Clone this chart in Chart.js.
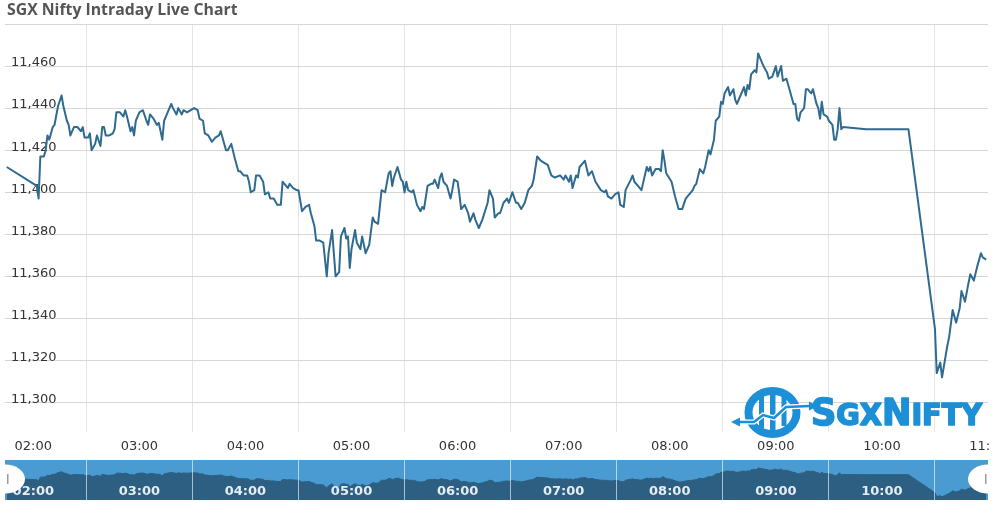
<!DOCTYPE html>
<html>
<head>
<meta charset="utf-8">
<title>SGX Nifty Intraday Live Chart</title>
<script src="https://cdn.jsdelivr.net/npm/chart.js@4.4.1/dist/chart.umd.min.js"></script>
<style>
  html, body { margin:0; padding:0; background:#fff; }
  body { width:1000px; height:513px; position:relative; overflow:hidden; }
  #title { position:absolute; left:7px; top:0px; font-family:"Open Sans","Liberation Sans",sans-serif; font-weight:700; font-size:15.8px; line-height:19px; color:#555; white-space:nowrap; }
  #mainWrap { position:absolute; left:0; top:0; width:990px; height:460px; }
  #navWrap { position:absolute; left:0; top:460px; width:990px; height:40px; }
  #logo { position:absolute; left:730px; top:380px; }
</style>
</head>
<body>
<div id="mainWrap"><canvas id="mainChart" width="990" height="460"></canvas></div>
<div id="navWrap"><canvas id="navChart" width="990" height="40"></canvas></div>
<div id="title">SGX Nifty Intraday Live Chart</div>
<svg id="logo" width="260" height="62" viewBox="0 0 260 62" xmlns="http://www.w3.org/2000/svg">
  <ellipse cx="42.5" cy="32.5" rx="24" ry="21.5" fill="none" stroke="#1d8fd6" stroke-width="8"/>
  <rect x="29" y="15" width="5" height="33" fill="#1d8fd6"/>
  <rect x="40" y="10" width="5.5" height="40" fill="#1d8fd6"/>
  <rect x="51.5" y="16" width="5" height="30" fill="#1d8fd6"/>
  <polyline points="8,42 24,42 33,35 44,38 56,27 80,26" fill="none" stroke="#fff" stroke-width="5"/>
  <polyline points="8,42 24,42 33,35 44,38 56,27 80,26" fill="none" stroke="#1d8fd6" stroke-width="2.5"/>
  <polygon points="1,42 10,37.5 10,46.5" fill="#1d8fd6"/>
  <polygon points="88,26 79,21.5 79,30.5" fill="#1d8fd6"/>
  <text x="81" y="45" font-family="DejaVu Sans Condensed, DejaVu Sans, sans-serif" font-weight="bold" fill="#1d8fd6" stroke="#1d8fd6" stroke-width="1.6" stroke-linejoin="round" textLength="171" lengthAdjust="spacingAndGlyphs"><tspan font-size="38">S</tspan><tspan font-size="31">GX</tspan><tspan font-size="38">N</tspan><tspan font-size="31">IFTY</tspan></text>
</svg>
<script>
// ---- data ----
const times = [
  "01:45","02:02","02:03","02:04","02:06","02:07","02:08","02:09","02:11","02:12",
  "02:14","02:16","02:17","02:19","02:20","02:21","02:23","02:25","02:27","02:28",
  "02:29","02:31","02:32","02:33","02:35","02:36","02:38","02:39","02:40","02:41",
  "02:43","02:45","02:46","02:47","02:49","02:51","02:52","02:53","02:55","02:56",
  "02:57","02:58","03:00","03:02","03:04","03:05","03:06","03:08","03:10","03:11",
  "03:13","03:14","03:16","03:18","03:19","03:21","03:22","03:24","03:25","03:27",
  "03:29","03:31","03:33","03:34","03:36","03:37","03:39","03:41","03:43","03:45",
  "03:46","03:47","03:49","03:50","03:52","03:54","03:56","03:57","03:59","04:01",
  "04:02","04:03","04:05","04:06","04:08","04:10","04:11","04:13","04:14","04:16",
  "04:18","04:20","04:21","04:23","04:24","04:25","04:27","04:29","04:30","04:32",
  "04:34","04:36","04:37","04:39","04:40","04:42","04:44","04:46","04:47","04:49",
  "04:50","04:51","04:53","04:54","04:56","04:57","04:58","04:59","05:00","05:02",
  "05:03","05:05","05:06","05:08","05:10","05:12","05:13","05:15","05:17","05:19",
  "05:21","05:22","05:23","05:24","05:26","05:28","05:29","05:30","05:31","05:32",
  "05:34","05:35","05:37","05:39","05:40","05:41","05:43","05:45","05:46","05:47",
  "05:49","05:50","05:51","05:52","05:54","05:56","05:57","05:58","06:00","06:01",
  "06:02","06:04","06:06","06:07","06:09","06:10","06:12","06:14","06:17","06:18",
  "06:20","06:21","06:23","06:24","06:26","06:28","06:29","06:31","06:33","06:34",
  "06:36","06:38","06:40","06:42","06:43","06:45","06:47","06:49","06:51","06:53",
  "06:55","06:58","07:00","07:01","07:03","07:04","07:05","07:07","07:08","07:09",
  "07:11","07:12","07:14","07:16","07:18","07:21","07:23","07:24","07:25","07:27",
  "07:29","07:31","07:32","07:34","07:35","07:38","07:39","07:40","07:42","07:44",
  "07:47","07:48","07:49","07:50","07:52","07:54","07:55","07:56","07:57","07:58",
  "08:01","08:03","08:05","08:07","08:09","08:11","08:13","08:14","08:15","08:17",
  "08:19","08:20","08:21","08:22","08:23","08:25","08:26","08:28","08:29","08:30",
  "08:31","08:33","08:34","08:36","08:37","08:38","08:40","08:42","08:43","08:44",
  "08:45","08:46","08:48","08:49","08:50","08:51","08:53","08:55","08:56","08:58",
  "09:00","09:01","09:03","09:04","09:06","09:08","09:10","09:11","09:12","09:13",
  "09:14","09:16","09:17","09:18","09:20","09:21","09:23","09:24","09:25","09:26",
  "09:27","09:29","09:30","09:32","09:33","09:34","09:35","09:36","09:37","09:38",
  "09:51","10:15","10:30","10:31","10:33","10:34","10:37","10:38","10:40","10:42",
  "10:44","10:45","10:47","10:49","10:50","10:52","10:54","10:56","10:57","10:59"
];
const values = [
  11412,11403,11397,11417,11417,11420,11427,11425,11431,11432,
  11441,11446,11441,11434,11432,11427,11431,11431,11429,11431,
  11426,11426,11428,11420,11423,11427,11422,11431,11431,11427,
  11427,11428,11430,11438,11438,11436,11439,11436,11429,11431,
  11427,11434,11438,11439,11434,11432,11437,11435,11432,11433,
  11425,11434,11438,11442,11440,11437,11440,11437,11439,11438,
  11439,11440,11439,11435,11434,11428,11427,11424,11426,11427,
  11429,11426,11420,11420,11423,11416,11410,11410,11408,11408,
  11405,11400,11401,11408,11408,11405,11399,11400,11397,11397,
  11394,11394,11405,11403,11402,11404,11402,11401,11401,11391,
  11393,11394,11390,11384,11377,11377,11376,11360,11371,11382,
  11371,11360,11362,11379,11383,11378,11379,11364,11373,11382,
  11376,11373,11379,11371,11375,11388,11386,11385,11401,11400,
  11409,11410,11403,11407,11412,11406,11405,11400,11405,11401,
  11400,11401,11394,11391,11393,11392,11403,11404,11404,11406,
  11402,11407,11409,11405,11403,11397,11401,11406,11405,11399,
  11392,11394,11390,11386,11390,11387,11383,11387,11395,11401,
  11397,11388,11390,11390,11395,11397,11395,11400,11395,11395,
  11392,11395,11401,11403,11406,11417,11415,11414,11413,11408,
  11407,11408,11406,11408,11405,11408,11402,11408,11407,11412,
  11414,11415,11408,11410,11405,11401,11400,11401,11398,11397,
  11399,11400,11394,11393,11401,11406,11408,11405,11403,11401,
  11412,11410,11412,11408,11411,11411,11410,11420,11415,11409,
  11405,11398,11392,11392,11397,11399,11401,11403,11404,11411,
  11409,11412,11416,11420,11418,11425,11434,11436,11443,11442,
  11447,11450,11446,11449,11444,11442,11446,11450,11446,11451,
  11449,11456,11458,11457,11466,11464,11460,11457,11454,11455,
  11460,11455,11460,11453,11454,11448,11442,11442,11435,11434,
  11438,11440,11449,11449,11447,11449,11442,11440,11435,11443,
  11437,11436,11434,11432,11425,11425,11430,11440,11430,11431,
  11430,11430,11335,11314,11319,11312,11327,11331,11344,11338,
  11345,11353,11348,11357,11361,11358,11365,11371,11369,11368
];
const hourLabels = ["02:00","03:00","04:00","05:00","06:00","07:00","08:00","09:00","10:00","11:00"];
const navLabels = ["02:00","03:00","04:00","05:00","06:00","07:00","08:00","09:00","10:00"];
const gridTimes = ["02:30","03:30","04:30","05:30","06:30","07:30","08:30","09:30","10:30"];
const yTicks = [11300,11320,11340,11360,11380,11400,11420,11440,11460,11480];
const xStart = "01:44", xEnd = "11:00";
const yMin = 11286, yMax = 11480;
const navMin = 11296, navMax = 11508;

// ---- helpers ----
function toMin(s){ const p = s.split(':').map(Number); return p[0]*60 + p[1]; }
function fmtMin(v){ const h = Math.floor(v/60), m = v % 60; return String(h).padStart(2,'0') + ':' + String(m).padStart(2,'0'); }
const points = times.map((t,i) => ({ x: toMin(t), y: values[i] }));
const hourSet = new Set(hourLabels.map(toMin));
const navSet = new Set(navLabels.map(toMin));
const gridSet = new Set(gridTimes.map(toMin));
const xTickValues = [...hourSet, ...gridSet].sort((a,b) => a - b);

Chart.defaults.font.family = '"DejaVu Sans", Verdana, sans-serif';

// ---- main chart ----
new Chart(document.getElementById('mainChart'), {
  type: 'line',
  data: { datasets: [{
    data: points, borderColor: '#2f6a8f', borderWidth: 2, pointRadius: 0,
    tension: 0, fill: false, borderJoinStyle: 'round'
  }]},
  options: {
    responsive: false, animation: false, devicePixelRatio: 1, events: [],
    layout: { padding: { left: 5, right: 2, top: 24, bottom: 0 } },
    plugins: { legend: { display: false }, tooltip: { enabled: false } },
    scales: {
      x: {
        type: 'linear', min: toMin(xStart), max: toMin(xEnd),
        afterBuildTicks: s => { s.ticks = xTickValues.map(v => ({ value: v })); },
        afterFit: s => { s.height = 28; s.paddingLeft = 0; s.paddingRight = 0; },
        border: { display: false },
        grid: { drawTicks: false, lineWidth: 1,
          color: c => (c.tick && gridSet.has(c.tick.value)) ? '#e4e4e4' : 'rgba(0,0,0,0)' },
        ticks: { autoSkip: false, maxRotation: 0, minRotation: 0, padding: 7, color: '#333',
          font: { size: 13 }, callback: v => hourSet.has(v) ? fmtMin(v) : '' }
      },
      y: {
        type: 'linear', min: yMin, max: yMax,
        afterBuildTicks: s => { s.ticks = yTicks.map(v => ({ value: v })); },
        afterFit: s => { s.width = 0; s.paddingTop = 0; s.paddingBottom = 0; },
        border: { display: false },
        grid: { drawTicks: false, color: '#d6d6d6', lineWidth: 1 },
        ticks: { mirror: true, padding: 6, labelOffset: -3, color: '#333', font: { size: 13 },
          callback: v => v === yMax ? '' : v.toLocaleString('en-US') }
      }
    }
  }
});

// ---- navigator ----
const navBg = {
  id: 'navBg',
  beforeDraw(chart) {
    const { ctx, chartArea: a } = chart;
    ctx.save(); ctx.fillStyle = '#4a9bd1';
    ctx.fillRect(a.left, a.top, a.right - a.left, a.bottom - a.top);
    ctx.restore();
  }
};
const navHandles = {
  id: 'navHandles',
  afterDraw(chart) {
    const { ctx, chartArea: a } = chart;
    ctx.save();
    ctx.beginPath(); ctx.rect(a.left, a.top, a.right - a.left, a.bottom - a.top); ctx.clip();
    const cy = (a.top + a.bottom) / 2 - 1;
    [a.left, a.right].forEach((cx, i) => {
      ctx.beginPath(); ctx.ellipse(cx, cy, 20, 14.5, 0, 0, Math.PI * 2);
      ctx.fillStyle = '#ffffff'; ctx.fill();
      ctx.fillStyle = '#9a9a9a';
      ctx.fillRect(i === 0 ? cx + 2 : cx - 3, cy - 5, 1.5, 10);
    });
    ctx.restore();
  }
};
new Chart(document.getElementById('navChart'), {
  type: 'line',
  data: { datasets: [{
    data: points, borderColor: '#2c5f82', borderWidth: 1, backgroundColor: '#2c5f82',
    fill: 'start', pointRadius: 0, tension: 0
  }]},
  options: {
    responsive: false, animation: false, devicePixelRatio: 1, events: [],
    layout: { padding: { left: 5, right: 2, top: 0, bottom: 0 } },
    plugins: { legend: { display: false }, tooltip: { enabled: false } },
    scales: {
      x: {
        type: 'linear', min: toMin(xStart), max: toMin(xEnd),
        afterBuildTicks: s => { s.ticks = xTickValues.map(v => ({ value: v })); },
        afterFit: s => { s.height = 0; s.paddingLeft = 0; s.paddingRight = 0; },
        border: { display: false },
        grid: { z: 1, drawTicks: false, lineWidth: 1,
          color: c => (c.tick && gridSet.has(c.tick.value)) ? 'rgba(255,255,255,0.6)' : 'rgba(0,0,0,0)' },
        ticks: { z: 1, mirror: true, padding: 1, autoSkip: false, maxRotation: 0, minRotation: 0,
          color: '#e6edf3', font: { size: 13, weight: 'bold' },
          callback: v => navSet.has(v) ? fmtMin(v) : '' }
      },
      y: { display: false, min: navMin, max: navMax }
    }
  },
  plugins: [navBg, navHandles]
});
</script>
</body>
</html>
